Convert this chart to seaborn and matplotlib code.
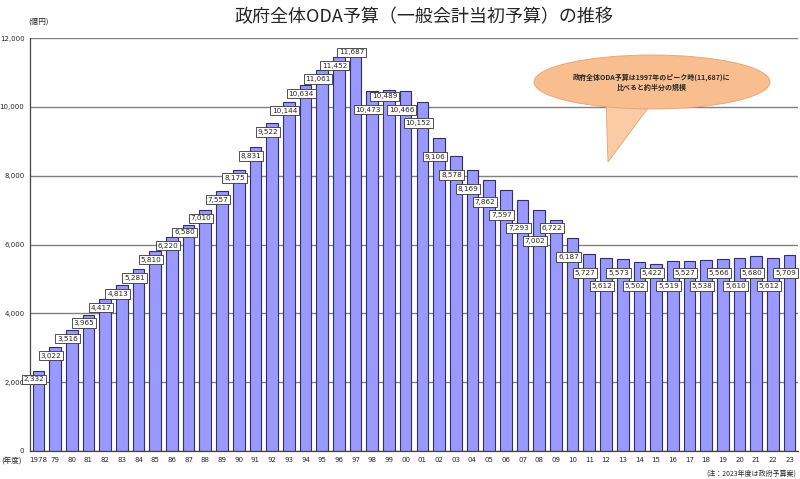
import matplotlib
matplotlib.use("Agg")
import matplotlib.pyplot as plt
import seaborn as sns
import pandas as pd
import numpy as np
from matplotlib.patches import Ellipse, Polygon

sns.set_theme(style="white")
plt.rcParams['font.family'] = ['Noto Sans CJK JP', 'DejaVu Sans']

years = ["1978", "79", "80", "81", "82", "83", "84", "85", "86", "87", "88", "89",
         "90", "91", "92", "93", "94", "95", "96", "97", "98", "99", "00", "01",
         "02", "03", "04", "05", "06", "07", "08", "09", "10", "11", "12", "13",
         "14", "15", "16", "17", "18", "19", "20", "21", "22", "23"]
values = [2332, 3022, 3516, 3965, 4417, 4813, 5281, 5810, 6220, 6580, 7010, 7557,
          8175, 8831, 9522, 10144, 10634, 11061, 11452, 11687, 10473, 10489, 10466, 10152,
          9106, 8578, 8169, 7862, 7597, 7293, 7002, 6722, 6187, 5727, 5612, 5573,
          5502, 5422, 5519, 5527, 5538, 5566, 5610, 5680, 5612, 5709]
yticks = [0, 2000, 4000, 6000, 8000, 10000, 12000]

df = pd.DataFrame({"year": years, "value": values})

fig = plt.figure(figsize=(8, 4.79), dpi=100)
ax = fig.add_axes([0.0375, 0.0585, 0.96, 0.862])

sns.barplot(data=df, x="year", y="value", ax=ax, color="#9999FF",
            edgecolor="#30306a", linewidth=0.8, width=0.7, saturation=1)

ax.set_xlim(-0.5, len(years) - 0.5)
ax.set_ylim(0, 12000)
ax.set_yticks(yticks)
ax.set_yticklabels([f"{v:,}" for v in yticks], fontsize=5, family="DejaVu Sans")
ax.set_xticks(range(len(years)))
ax.set_xticklabels(years, fontsize=5, family="DejaVu Sans")
ax.tick_params(axis="both", length=2, pad=2, color="#666666")
ax.set_xlabel("")
ax.set_ylabel("")
ax.yaxis.grid(True, color="#808080", linewidth=1.0)
ax.set_axisbelow(True)
for s in ["top", "right"]:
    ax.spines[s].set_visible(False)
ax.spines["left"].set_color("#444444")
ax.spines["bottom"].set_color("#444444")
ax.spines["left"].set_linewidth(0.9)
ax.spines["bottom"].set_linewidth(0.9)

# value labels: placed just below bar tops, nudged so neighbours don't collide
peak = int(np.argmax(values))
gap = 380
prev_y = None
for i, v in enumerate(values):
    target = v - (250 if i <= peak else 550)
    y = target
    if prev_y is not None and abs(y - prev_y) < gap:
        lo, hi = prev_y - gap, prev_y + gap
        y = lo if abs(lo - target) <= abs(hi - target) else hi
    prev_y = y
    ax.text(i - 0.25, y, f"{v:,}", ha="center", va="center", fontsize=5.2,
            family="DejaVu Sans", zorder=5,
            bbox=dict(boxstyle="square,pad=0.25", fc="white", ec="#333333", lw=0.6))

# title and annotations
fig.text(0.53, 0.965, "政府全体ODA予算（一般会計当初予算）の推移", ha="center", va="center",
         fontsize=13)
fig.text(0.048, 0.955, "(億円)", ha="center", va="center", fontsize=5.5)
fig.text(0.002, 0.036, "(年度)", ha="left", va="center", fontsize=5.5)
fig.text(0.995, 0.012, "(注：2023年度は政府予算案)", ha="right", va="center", fontsize=5)

# speech bubble (in figure pixel coordinates)
tr = fig.transFigure
def fx(px):
    return px / 800.0
def fy(py):
    return 1 - py / 479.0

tail = Polygon([(fx(606), fy(100)), (fx(654), fy(100)), (fx(608), fy(162))],
               closed=True, transform=tr, fc="#FBCBA6", ec="#E8A070", lw=0.6, zorder=9)
fig.patches.append(tail)
ell = Ellipse((fx(652), fy(82)), width=fx(236), height=(54 / 479.0), transform=tr,
              fc="#F9BE90", ec="#E8A070", lw=0.6, zorder=10)
fig.patches.append(ell)
fig.text(fx(652), fy(82), "政府全体ODA予算は1997年のピーク時(11,687)に\n比べると約半分の規模",
         ha="center", va="center", fontsize=5, fontweight="bold", linespacing=1.4,
         zorder=11)

fig.savefig("out.png", dpi=100)
